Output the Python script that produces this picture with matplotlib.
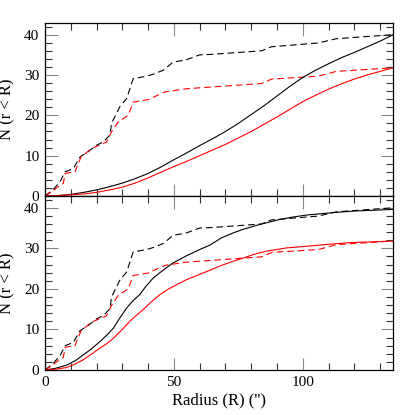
import matplotlib
matplotlib.use("Agg")
import matplotlib.pyplot as plt
from matplotlib.ticker import MultipleLocator

# Observed cumulative counts (dashed, step-like)
obs_black_r = [0, 3, 5.8, 7.8, 11, 13.6, 16.8, 20, 22.6, 25.2, 25.8, 29, 31.7, 34.2, 39.4, 42, 45.9, 49.7, 54.9, 60, 64, 84, 87.8, 106, 113, 135]
obs_black_n = [0, 1.5, 3.5, 6.0, 6.8, 9.7, 11, 12.6, 13.4, 15.1, 18, 22.1, 24.2, 29.1, 29.7, 30.2, 31.2, 33.2, 33.8, 35.0, 35.1, 36.0, 37.0, 37.95, 39.0, 40.0]
obs_red_r = [0, 3, 5.8, 7.1, 7.8, 11.6, 14, 18.1, 23.9, 25.8, 28.4, 32.3, 34.2, 40, 46.5, 54.9, 64, 84, 88, 106, 113, 135]
obs_red_n = [0, 1.2, 2.7, 3.1, 5.6, 6.0, 9.7, 11.8, 13.4, 15.9, 18.4, 20, 23.3, 23.9, 25.8, 26.6, 27, 27.9, 29, 29.7, 30.9, 31.8]

# Model curves, top panel (solid)
top_r = [0, 5, 10, 15, 20, 25, 30, 35, 40, 45, 50, 55, 60, 65, 70, 75, 80, 85, 90, 95, 100, 105, 110, 115, 120, 125, 130, 135]
top_black_n = [0, 0.1, 0.4, 0.9, 1.5, 2.3, 3.2, 4.3, 5.6, 7.2, 9.0, 10.7, 12.5, 14.2, 16.0, 18.0, 20.2, 22.4, 24.8, 27.2, 29.4, 31.2, 32.8, 34.3, 35.6, 37.0, 38.4, 40.0]
top_red_n = [0, 0.1, 0.3, 0.5, 0.9, 1.5, 2.2, 3.2, 4.5, 5.9, 7.3, 8.6, 10.0, 11.4, 12.8, 14.4, 16.0, 17.8, 19.6, 21.5, 23.4, 25.0, 26.5, 27.8, 29.0, 30.0, 30.9, 31.8]

# Model curves, bottom panel (solid)
bot_black_r = [0, 4, 8.4, 12, 14.8, 18, 21.3, 24, 26.5, 29, 31.7, 34, 36.8, 39, 42, 46, 49.7, 55, 60, 64, 68.5, 73, 76.9, 84, 91, 96, 101.4, 111.7, 120, 128, 135]
bot_black_n = [0, 0.4, 1.2, 2.4, 3.7, 5.2, 7.0, 8.6, 10.3, 12.8, 15.3, 17.0, 18.6, 20.5, 22.7, 24.7, 26.4, 28.2, 29.7, 30.8, 32.6, 33.8, 34.7, 36.0, 37.1, 37.7, 38.2, 38.8, 39.2, 39.4, 39.6]
bot_red_r = [0, 4, 8.4, 12, 14.8, 18, 21.3, 24, 26.5, 30, 32.9, 35.5, 38.1, 41, 44.6, 48, 51, 55, 60, 64, 68.5, 73, 76.9, 81, 85.9, 93.7, 101.4, 110, 118.2, 127, 135]
bot_red_n = [0, 0.2, 0.6, 1.6, 2.5, 3.9, 5.4, 6.5, 7.8, 10.0, 12.0, 13.5, 14.9, 16.7, 18.6, 20.0, 21.0, 22.3, 23.6, 24.6, 25.8, 26.8, 27.6, 28.5, 29.3, 30.1, 30.5, 31.0, 31.4, 31.6, 31.8]

plt.rcParams['font.family'] = ['Liberation Serif', 'DejaVu Serif']

fig = plt.figure(figsize=(4.15, 4.15), dpi=100)
W = 415.0
left = 45 / W
right = 393 / W
ax_top = fig.add_axes([left, 1 - 196 / W, right - left, (196 - 23) / W])
ax_bot = fig.add_axes([left, 1 - 370 / W, right - left, (370 - 196) / W])

dash = (0, (6, 3.5))
lw = 0.8
for ax, (br, bn), (rr, rn) in [
    (ax_top, (top_r, top_black_n), (top_r, top_red_n)),
    (ax_bot, (bot_black_r, bot_black_n), (bot_red_r, bot_red_n)),
]:
    ax.plot(obs_black_r, obs_black_n, color='black', lw=lw, linestyle=dash)
    ax.plot(obs_red_r, obs_red_n, color='red', lw=lw, linestyle=dash)
    ax.plot(br, bn, color='black', lw=lw)
    ax.plot(rr, rn, color='red', lw=lw)
    ax.set_xlim(0, 135)
    ax.set_ylim(0, 42.9)
    ax.xaxis.set_major_locator(MultipleLocator(50))
    ax.xaxis.set_minor_locator(MultipleLocator(10))
    ax.yaxis.set_major_locator(MultipleLocator(10))
    ax.yaxis.set_minor_locator(MultipleLocator(2))
    ax.tick_params(which='both', direction='in', top=True, right=True, labelsize=11, width=0.8, pad=4)
    ax.tick_params(which='major', length=9, color='#888888')
    ax.tick_params(which='minor', length=5, color='#333333')
    for s in ax.spines.values():
        s.set_linewidth(0.9)
    ax.set_ylabel('N (r < R)', fontsize=12, labelpad=6)

ax_top.tick_params(labelbottom=False)
ax_bot.set_xlabel("Radius (R) ('')", fontsize=12, labelpad=3)

fig.savefig('out.png', dpi=100)
